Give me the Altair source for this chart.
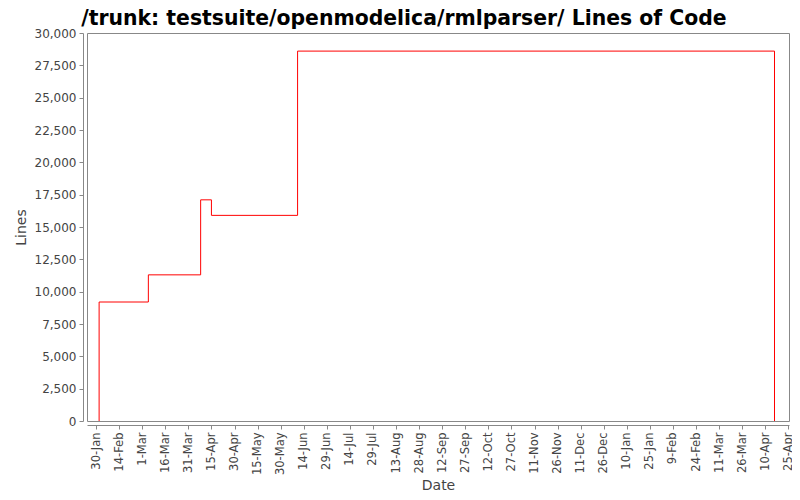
import altair as alt
import pandas as pd

# Step data (date, lines of code)
dates = ["2009-02-01", "2009-02-01", "2009-03-05", "2009-04-08", "2009-04-15",
         "2009-06-10", "2010-04-16"]
lines = [0, 9200, 11300, 17100, 15900, 28600, 0]

x_tick_dates = ["2009-01-30", "2009-02-14", "2009-03-01", "2009-03-16", "2009-03-31",
                "2009-04-15", "2009-04-30", "2009-05-15", "2009-05-30", "2009-06-14",
                "2009-06-29", "2009-07-14", "2009-07-29", "2009-08-13", "2009-08-28",
                "2009-09-12", "2009-09-27", "2009-10-12", "2009-10-27", "2009-11-11",
                "2009-11-26", "2009-12-11", "2009-12-26", "2010-01-10", "2010-01-25",
                "2010-02-09", "2010-02-24", "2010-03-11", "2010-03-26", "2010-04-10",
                "2010-04-25"]
month_names = ["Jan", "Feb", "Mar", "Apr", "May", "Jun", "Jul", "Aug", "Sep",
               "Oct", "Nov", "Dec"]
y_ticks = [0, 2500, 5000, 7500, 10000, 12500, 15000, 17500, 20000, 22500,
           25000, 27500, 30000]
x_domain = ["2009-01-24T03:00:00", "2010-04-25T10:00:00"]

def ms(s):
    return int(pd.Timestamp(s, tz="UTC").value // 10**6)

df = pd.DataFrame({"t": [ms(d) for d in dates], "Lines": lines, "order": range(len(lines))})

months_js = "[" + ",".join("'%s'" % m for m in month_names) + "]"
x_label_expr = "utcdate(datum.value) + '-' + " + months_js + "[utcmonth(datum.value)]"
y_label_expr = ("datum.value >= 1000 ? floor(datum.value / 1000) + ',' + "
                "substring(toString(1000 + (datum.value % 1000)), 1, 4) : toString(datum.value)")

chart = alt.Chart(df).mark_line(
    interpolate="step-after", color="#ff0000", strokeWidth=1
).encode(
    x=alt.X("t:T", title="Date",
            scale=alt.Scale(type="utc", domain=[ms(d) for d in x_domain]),
            axis=alt.Axis(values=[ms(d) for d in x_tick_dates], labelExpr=x_label_expr,
                          labelAngle=-90, grid=False,
                          offset=4, labelFontSize=11.5, titleFontSize=14,
                          labelOverlap=False, labelPadding=3, labelBound=False)),
    y=alt.Y("Lines:Q", title="Lines",
            scale=alt.Scale(domain=[0, 30000], nice=False),
            axis=alt.Axis(values=y_ticks, labelExpr=y_label_expr, grid=False, offset=4,
                          labelFontSize=12, titleFontSize=14, labelPadding=3,
                          titlePadding=6)),
    order="order:Q",
).properties(
    width=702, height=388,
    autosize=alt.AutoSizeParams(type="none"),
    padding={"left": 79, "top": 25, "right": 3, "bottom": 71},
    title=alt.Title("/trunk: testsuite/openmodelica/rmlparser/ Lines of Code",
                    font="DejaVu Sans", fontSize=20.4, fontWeight="bold",
                    color="#000000", anchor="middle", frame="bounds", offset=-2),
).configure_view(
    stroke="#888888", strokeWidth=1
).configure_axis(
    domainColor="#888888", tickColor="#888888", tickSize=4,
    labelColor="#444444", titleColor="#444444",
    labelFont="DejaVu Sans", titleFont="DejaVu Sans", titleFontWeight="normal",
)

chart.save("out.html", embed_options={"renderer": "svg", "actions": False})
